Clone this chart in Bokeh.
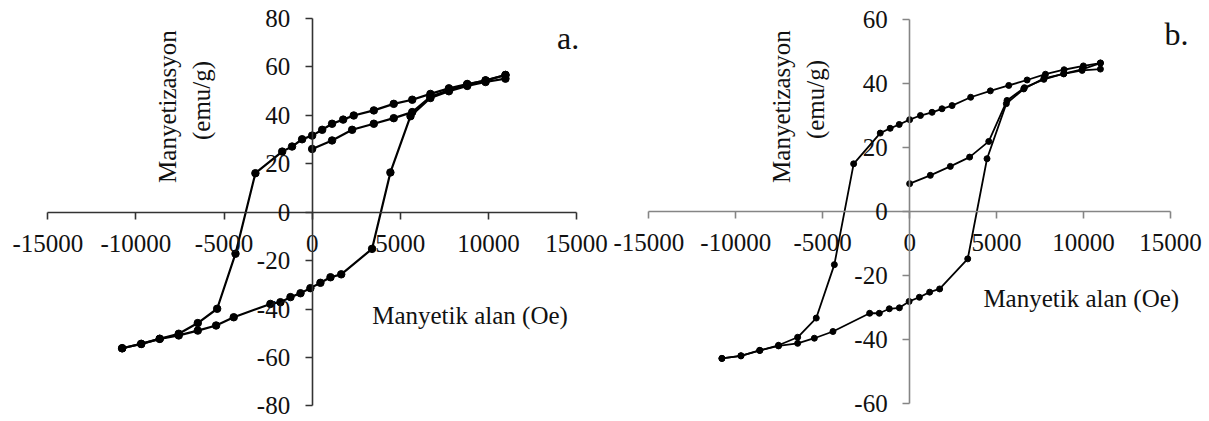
from bokeh.plotting import figure
from bokeh.models import Range1d, FixedTicker, Label
from bokeh.layouts import row
from bokeh.embed import file_html
from bokeh.resources import INLINE

# ---------------- data: panel a ----------------
a_virgin_field = [0, 1130, 2270, 3500, 4630, 5680, 6710, 7760, 8800, 9840, 10970]
a_virgin_mag = [26.0, 29.5, 33.9, 36.4, 38.7, 41.2, 47.5, 50.3, 52.6, 54.3, 56.5]

a_desc_field = [10970, 9840, 8800, 7760, 6710, 5680, 4630, 3500, 2360, 1760, 1130, 570, 0,
                -570, -1140, -1700, -3220, -4350, -5390, -6490, -7570, -8650, -9700, -10780]
a_desc_mag = [56.5, 54.2, 52.8, 51.0, 48.7, 46.3, 44.6, 41.9, 39.8, 38.1, 36.4, 33.9, 31.5,
              30.0, 27.0, 24.9, 16.0, -17.2, -39.9, -45.8, -50.2, -52.3, -54.4, -56.2]

a_asc_field = [-10780, -9700, -8650, -7570, -6490, -5450, -4450, -2370, -1800, -1230, -660, -100,
               470, 1040, 1650, 3400, 4440, 5580, 6710, 7760, 8800, 9840, 10970]
a_asc_mag = [-56.2, -54.4, -52.3, -50.9, -48.9, -46.8, -43.4, -37.9, -37.2, -35.1, -33.5, -31.4,
             -29.2, -26.9, -25.7, -15.2, 16.3, 39.5, 47.0, 49.8, 52.0, 53.6, 55.0]

# ---------------- data: panel b ----------------
b_virgin_field = [0, 1190, 2340, 3450, 4550, 5600, 6600, 7720, 8860, 9920, 10970]
b_virgin_mag = [8.6, 11.2, 14.0, 16.9, 21.8, 34.6, 38.6, 41.2, 43.0, 44.3, 46.3]

b_desc_field = [10970, 9990, 8880, 7810, 6755, 5700, 4640, 3510, 2440, 1860, 1290, 620, 0,
                -600, -1120, -1690, -3220, -4330, -5370, -6440, -7540, -8610, -9700, -10795]
b_desc_mag = [46.3, 45.4, 44.2, 42.8, 41.0, 39.3, 37.6, 35.6, 33.0, 32.0, 30.9, 29.9, 28.6,
              27.1, 25.9, 24.4, 14.8, -16.7, -33.4, -39.4, -41.9, -43.5, -45.2, -46.0]

b_asc_field = [-10795, -9700, -8630, -7540, -6440, -5480, -4410, -2300, -1745, -1170, -590, -30,
               560, 1150, 1725, 3340, 4450, 5560, 6560, 7720, 8860, 9920, 10970]
b_asc_mag = [-46.0, -45.2, -43.5, -42.1, -41.3, -39.7, -37.6, -31.9, -31.9, -30.5, -30.2, -28.2,
             -26.9, -25.3, -24.3, -14.9, 16.4, 33.6, 38.2, 41.5, 42.9, 44.0, 44.4]

x_ticks = [-15000, -10000, -5000, 0, 5000, 10000, 15000]
x_tick_labels = ["-15000", "-10000", "-5000", "0", "5000", "10000", "15000"]
a_y_ticks = [-80, -60, -40, -20, 0, 20, 40, 60, 80]
a_y_tick_labels = ["-80", "-60", "-40", "-20", "0", "20", "40", "60", "80"]
b_y_ticks = [-60, -40, -20, 0, 20, 40, 60]
b_y_tick_labels = ["-60", "-40", "-20", "0", "20", "40", "60"]

y_title_1 = "Manyetizasyon"
y_title_2 = "(emu/g)"
x_title = "Manyetik alan (Oe)"

FONT = "Liberation Serif"


def make_panel(width, height, x_view, y_view, x_bounds, y_bounds, y_ticks, y_labels, axis_color):
    p = figure(width=width, height=height, output_backend="svg", toolbar_location=None,
               x_range=Range1d(*x_view), y_range=Range1d(*y_view),
               min_border_left=0, min_border_right=0,
               min_border_top=0, min_border_bottom=0)
    p.outline_line_color = None
    p.grid.visible = False
    p.background_fill_color = "white"
    p.border_fill_color = "white"
    p.xaxis.ticker = FixedTicker(ticks=x_ticks)
    p.xaxis.major_label_overrides = {t: l for t, l in zip(x_ticks, x_tick_labels)}
    p.yaxis.ticker = FixedTicker(ticks=y_ticks)
    p.yaxis.major_label_overrides = {t: l for t, l in zip(y_ticks, y_labels)}
    p.xaxis.bounds = x_bounds
    p.yaxis.bounds = y_bounds
    for ax in (p.xaxis[0], p.yaxis[0]):
        ax.fixed_location = 0
        ax.axis_line_color = axis_color
        ax.axis_line_width = 1.6
        ax.major_tick_line_color = axis_color
        ax.major_tick_line_width = 1.6
        ax.major_tick_out = 7
        ax.major_tick_in = 0
        ax.minor_tick_line_color = None
        ax.major_label_text_font = FONT
        ax.major_label_text_font_size = "25px"
        ax.major_label_text_color = "#111111"
    p.xaxis.major_label_standoff = 16
    p.yaxis.major_label_standoff = 15
    return p


def add_branch(p, xs, ys, lw, ms):
    p.line(xs, ys, line_color="black", line_width=lw)
    p.scatter(xs, ys, marker="circle", size=ms, fill_color="black", line_color="black")


def add_text(p, x, y, text, size, angle=0.0, align="left", baseline="alphabetic"):
    p.add_layout(Label(x=x, y=y, text=text, angle=angle, text_font=FONT,
                       text_font_size=size, text_color="#111111",
                       text_align=align, text_baseline=baseline))


# panel a (page x 0..608)
pa = make_panel(608, 420, (-17684, 16816), (-85.98, 87.22), (-15000, 15000), (-80, 80),
                a_y_ticks, a_y_tick_labels, "#333333")
add_branch(pa, a_virgin_field, a_virgin_mag, 2.2, 7.5)
add_branch(pa, a_desc_field, a_desc_mag, 2.2, 7.5)
add_branch(pa, a_asc_field, a_asc_mag, 2.2, 7.5)
add_text(pa, -8212, 43.5, y_title_1, "25px", angle=1.5708, align="center", baseline="middle")
add_text(pa, -6283, 46.0, y_title_2, "25px", angle=1.5708, align="center", baseline="middle")
add_text(pa, 3405, -42.5, x_title, "25px")
add_text(pa, 13900, 71.6, "a.", "32px")

# panel b (page x 608..1209)
pb = make_panel(601, 420, (-17317, 17243), (-65.41, 65.84), (-15000, 15000), (-60, 60),
                b_y_ticks, b_y_tick_labels, "#858585")
add_branch(pb, b_virgin_field, b_virgin_mag, 1.8, 6)
add_branch(pb, b_desc_field, b_desc_mag, 1.8, 6)
add_branch(pb, b_asc_field, b_asc_mag, 1.8, 6)
add_text(pb, -7342, 32.7, y_title_1, "25px", angle=1.5708, align="center", baseline="middle")
add_text(pb, -5426, 34.9, y_title_2, "25px", angle=1.5708, align="center", baseline="middle")
add_text(pb, 4240, -27.3, x_title, "25px")
add_text(pb, 14650, 55.3, "b.", "32px")

layout = row(pa, pb)
open("out.html", "w").write(file_html(layout, INLINE))
